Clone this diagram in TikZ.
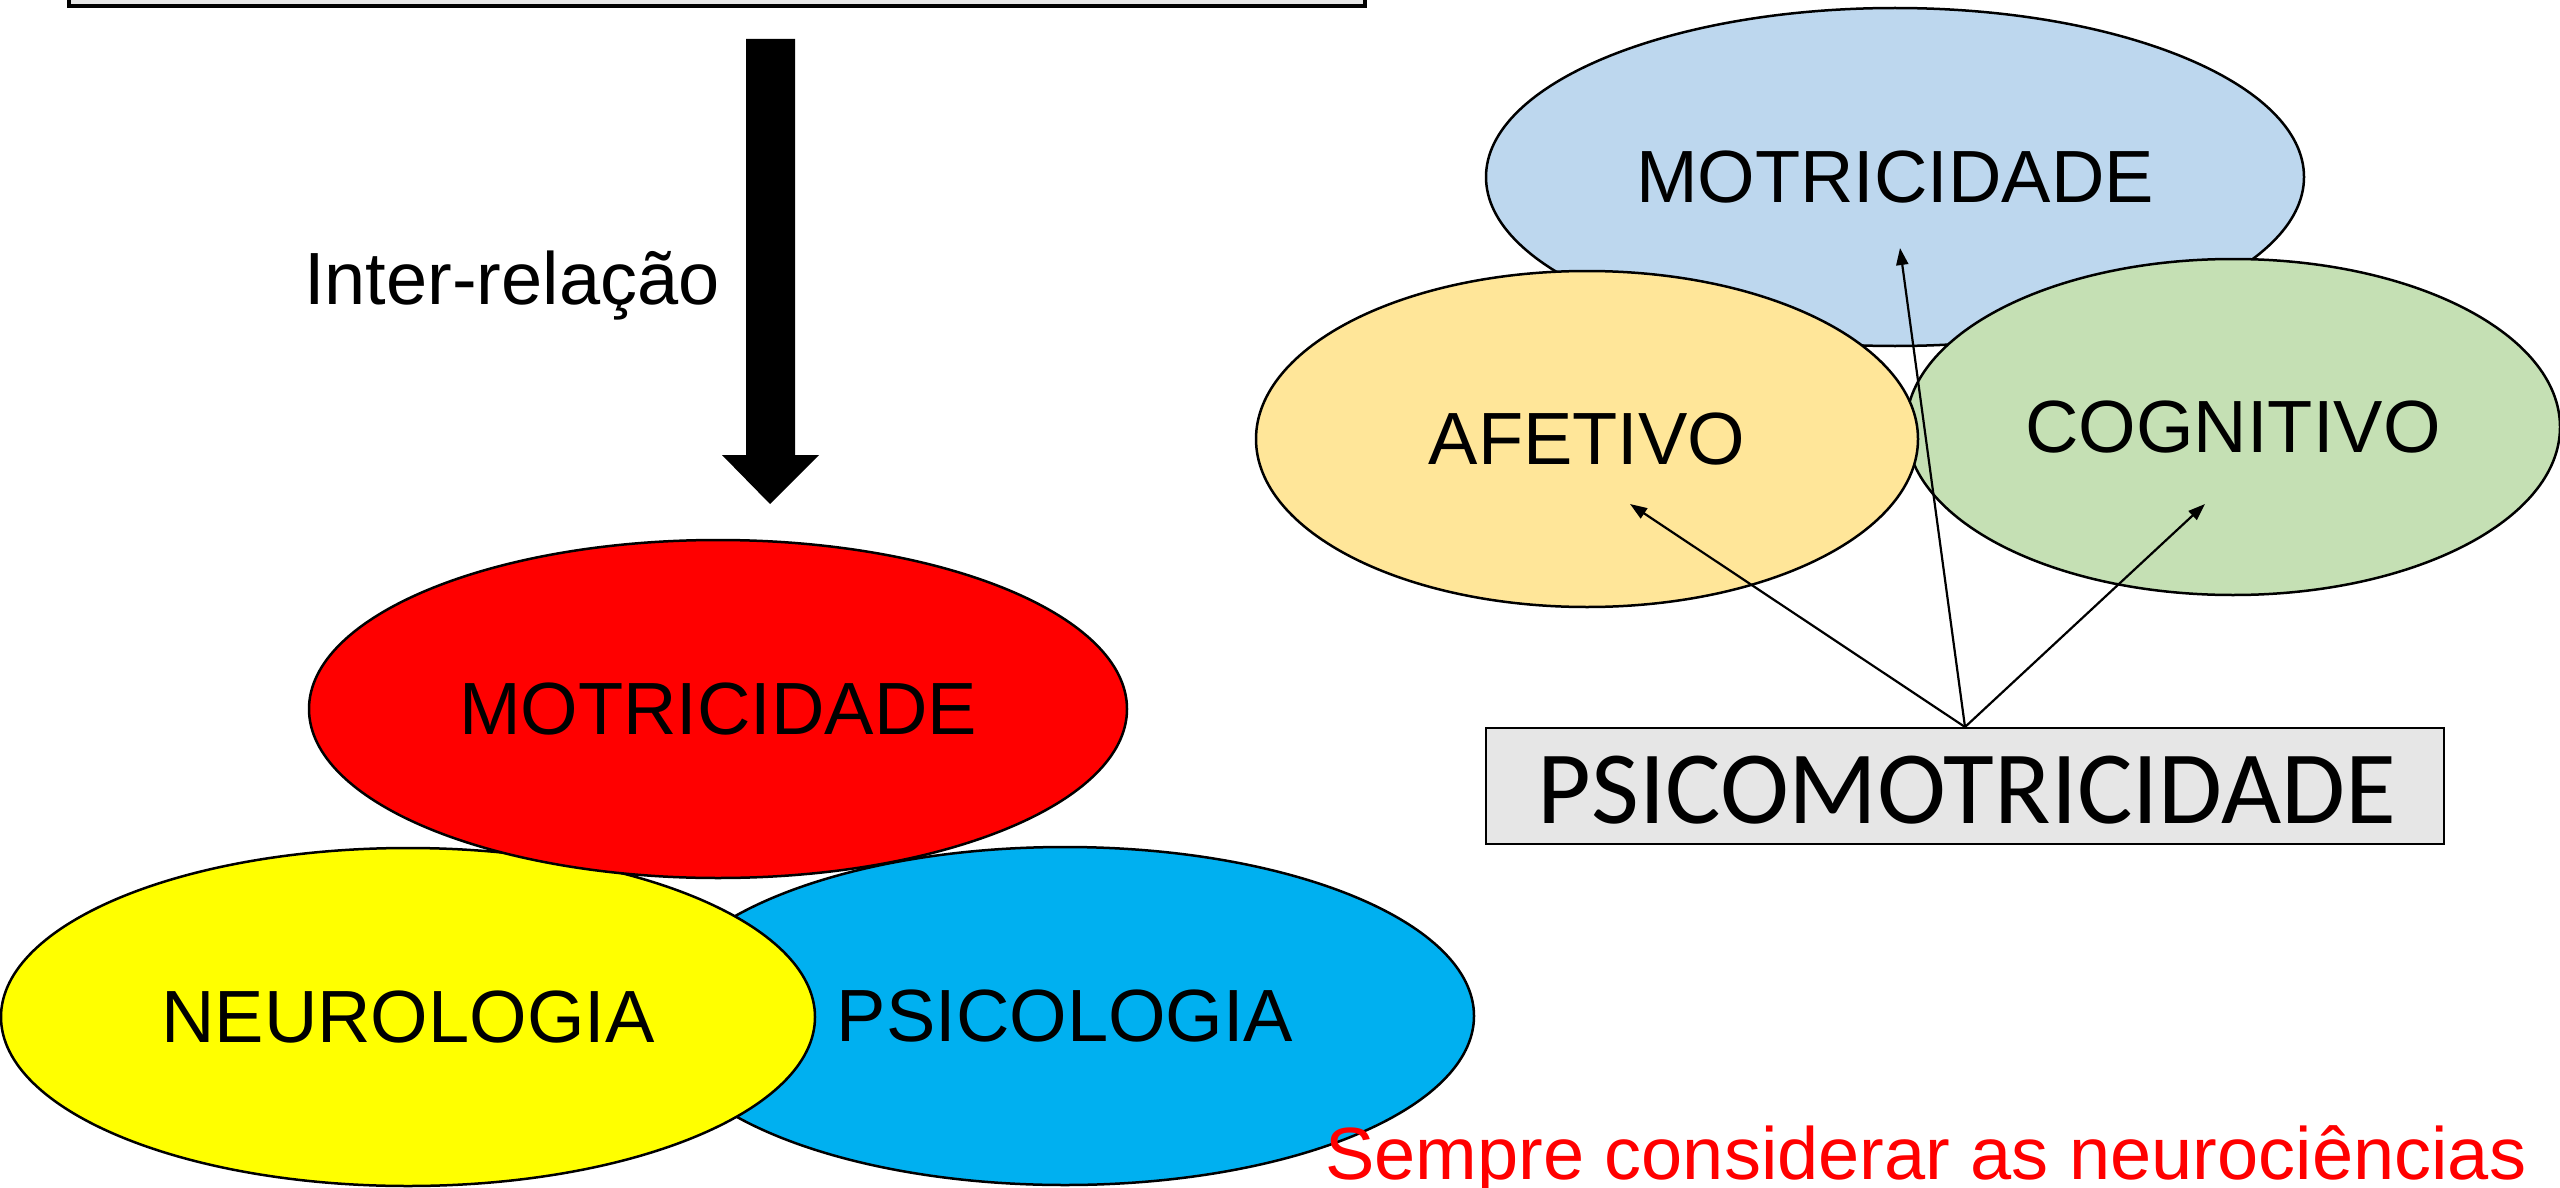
\documentclass[tikz,border=0pt]{standalone}
\usepackage{fontspec}
\setmainfont{Liberation Sans}
\newfontfamily\calib{Carlito}
\usetikzlibrary{shapes.geometric,arrows.meta}
\definecolor{boxgray}{HTML}{E6E6E6}
\definecolor{pblue}{HTML}{00B0F0}
\definecolor{pyellow}{HTML}{FFFF00}
\definecolor{pred}{HTML}{FF0000}
\definecolor{lblue}{HTML}{BDD7EE}
\definecolor{lyellow}{HTML}{FFE699}
\definecolor{lgreen}{HTML}{C5E0B4}
\begin{document}
\begin{tikzpicture}[x=1pt,y=-1pt,
  ell/.style={ellipse,draw=black,line width=2.5pt,inner sep=0pt,font=\fontsize{74}{80}\selectfont},
  conn/.style={line width=2.2pt,-{Triangle[length=17pt,width=12pt]}},
  lbl/.style={inner sep=0pt,font=\fontsize{74}{80}\selectfont}
]
\useasboundingbox (0,0) rectangle (2560,1188);
% top box (cut off)
\node[draw=black,line width=3.5pt,fill=boxgray,minimum width=1296pt,minimum height=100pt,inner sep=0pt] (topbox) at (717,-44) {};
% block arrow
\fill[black] (746,39) -- (795,39) -- (795,455) -- (819,455) -- (770,504) -- (722,455) -- (746,455) -- cycle;
\node[lbl,anchor=base west] (inter) at (304,304) {Inter-relação};
% left ellipses
\node[ell,fill=pblue,minimum width=818pt,minimum height=338pt] (psi) at (1065,1016) {PSICOLOGIA};
\node[ell,fill=pyellow,minimum width=814pt,minimum height=338pt] (neu) at (408,1017) {NEUROLOGIA};
\node[ell,fill=pred,minimum width=818pt,minimum height=338pt] (mot) at (718,709) {MOTRICIDADE};
% right ellipses
\node[ell,fill=lblue,minimum width=818pt,minimum height=338pt] (mot2) at (1895,177) {MOTRICIDADE};
\node[ell,fill=lgreen,minimum width=654pt,minimum height=336pt] (cog) at (2233,427) {COGNITIVO};
\node[ell,fill=lyellow,minimum width=662pt,minimum height=336pt] (afe) at (1587,439) {AFETIVO};
% psicomotricidade box
\node[draw=black,line width=2pt,fill=boxgray,minimum width=958pt,minimum height=116pt,inner sep=0pt] (pm) at (1965,786) {};
\node[inner sep=0pt,anchor=base,font=\calib\fontsize{104}{110}\selectfont] (pmtext) at (1967,823) {PSICOMOTRICIDADE};
\coordinate (aT) at (1630,504);
\coordinate (mT) at (1900,248);
\coordinate (cT) at (2205,504);
\draw[conn] (pm.north) -- (aT);
\draw[conn] (pm.north) -- (mT);
\draw[conn] (pm.north) -- (cT);
\node[lbl,anchor=base west,text=pred] (sempre) at (1325,1179) {Sempre considerar as neurociências};
\end{tikzpicture}
\end{document}
